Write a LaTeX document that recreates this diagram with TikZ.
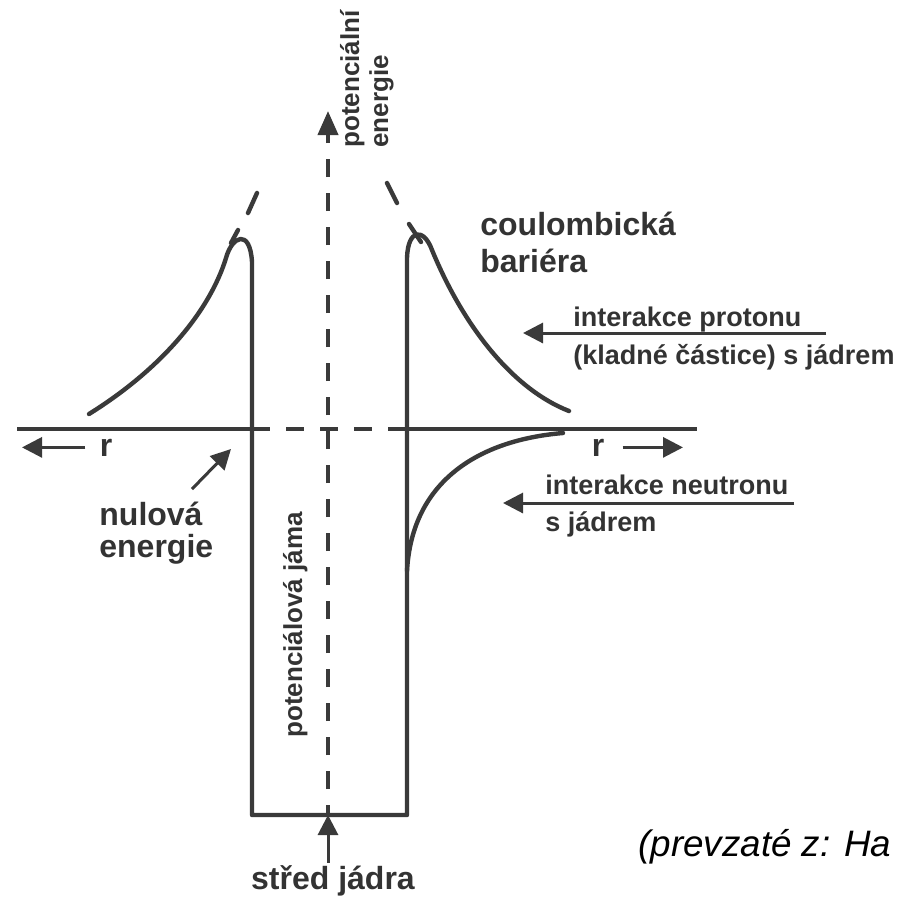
\documentclass[tikz,border=0pt]{standalone}
\usepackage{fontspec}
\setmainfont{Liberation Sans}
\usetikzlibrary{arrows.meta}
\definecolor{ink}{HTML}{3A3A3A}
\definecolor{txt}{HTML}{333333}
\tikzset{curve/.style={draw=ink,line width=2.2pt,line join=round,line cap=round},
  axis/.style={draw=ink,line width=2pt},
  dax/.style={draw=ink,line width=2pt,dash pattern=on 9pt off 8pt},
  arr/.style={draw=ink,line width=1.5pt,-{Triangle[length=10pt,width=10pt]}},
  lab/.style={text=txt,font=\bfseries\fontsize{13.5}{16}\selectfont,inner sep=1pt,anchor=base west},
  big/.style={lab,font=\bfseries\fontsize{16}{19}\selectfont},
  upr/.style={lab,rotate=90,font=\bfseries\fontsize{13}{15}\selectfont}}

\begin{document}
\begin{tikzpicture}[x=0.5pt,y=-0.5pt]
\useasboundingbox (0,0) rectangle (896,901);
\fill[white] (0,0) rectangle (896,901);
\draw[curve] (89,414) .. controls (163,368) and (210,310) .. (226,258)
  .. controls (232,236) and (250,228) .. (252,262) -- (252,815) -- (407,815)
  -- (407,258) .. controls (408,228) and (424,228) .. (432,250)
  .. controls (465,330) and (515,390) .. (569,411);
\draw[curve] (563,433) .. controls (480,440) and (412,480) .. (407,571);
\draw[curve] (231,243) -- (238,230) (248,213) -- (257,193);
\draw[curve] (421,242) -- (409,224) (397,203) -- (387,183);
\draw[axis] (17,429) -- (252,429) (390,429) -- (697,429);
\draw[dax] (252,429) -- (390,429);
\coordinate (axbot) at (328,815);
\coordinate (axtop) at (328,111);
\draw[dax,dash phase=4pt,-{Triangle[length=12pt,width=10pt]}] (axbot) -- (axtop);
\node[upr] (pe1) at (359,150) {potenciální};
\node[upr] (pe2) at (388,150) {energie};
\node[upr] (jama) at (302,740) {potenciálová jáma};
\node[big] (coul) at (478,235) {coulombická};
\node[big] (bar) at (478,272) {bariéra};
\node[lab] (prot) at (571,326) {interakce protonu};
\node[lab] (protb) at (571,364) {(kladné částice) s jádrem};
\node[lab] (neut) at (543,494) {interakce neutronu};
\node[lab] (neutb) at (543,531) {s jádrem};
\node[big] (nul) at (97,525) {nulová};
\node[big] (nulb) at (97,557) {energie};
\node[big,anchor=base] (rl) at (106,456) {r};
\node[big,anchor=base] (rr) at (598,456) {r};
\node[big,anchor=base] (stred) at (333,889) {střed jádra};
\node[lab,text=black,font=\itshape\fontsize{18.4}{22}\selectfont] (zdroj) at (636,856) {(prevzaté z: Ha};
\coordinate (rlend) at (22,0);
\coordinate (rrend) at (683,0);
\coordinate (nulpt) at (231,449);
\coordinate (pa) at (826,333);
\coordinate (pb) at (523,333);
\coordinate (na) at (794,503);
\coordinate (nb) at (503,503);
\draw[arr] ([xshift=-6pt]rl.west) -- (rl.west -| rlend);
\draw[arr] ([xshift=8pt]rr.east) -- (rr.east -| rrend);
\draw[arr] ([shift={(-13,-10)}]nul.north east) -- (nulpt);
\draw[arr] (pa) -- (pb);
\draw[arr] (na) -- (nb);
\draw[arr] (stred.north -| axbot) -- (axbot);
\end{tikzpicture}
\end{document}
